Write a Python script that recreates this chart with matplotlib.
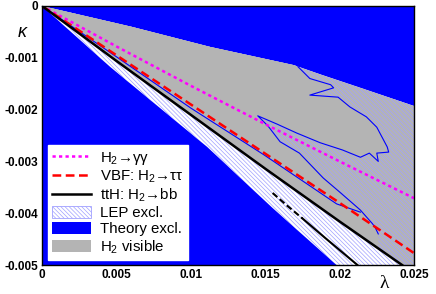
import numpy as np
import matplotlib.pyplot as plt
from matplotlib.lines import Line2D
from matplotlib.patches import Patch

plt.rcParams['font.family'] = ['Liberation Sans', 'DejaVu Sans']
plt.rcParams['mathtext.fontset'] = 'custom'
plt.rcParams['mathtext.rm'] = 'Liberation Sans'
plt.rcParams['mathtext.it'] = 'Liberation Sans:italic'
plt.rcParams['hatch.linewidth'] = 0.5

# boundaries of the theoretically allowed wedge
upper_lam = np.array([0, 0.006, 0.0113, 0.0169, 0.0188, 0.0214, 0.025])
upper_kap = np.array([0, -0.0004, -0.00079, -0.00114, -0.00133, -0.00158, -0.00193])
lower_lam = np.array([0, 0.0046, 0.0111, 0.0155, 0.0198])
lower_kap = np.array([0, -0.00118, -0.00272, -0.0039, -0.005])

# discovery contours
tth_lam = np.array([0, 0.005, 0.01, 0.015, 0.02, 0.0242])
tth_kap = np.array([0, -0.00106, -0.0021, -0.00314, -0.00416, -0.005])
tth2_lam = np.array([0.0155, 0.0165, 0.0175, 0.019, 0.0212])
tth2_kap = np.array([-0.00361, -0.00386, -0.0041, -0.00447, -0.005])
vbf_lam = np.array([0, 0.005, 0.01, 0.015, 0.02, 0.025])
vbf_kap = np.array([0, -0.00095, -0.0019, -0.00285, -0.0038, -0.00477])
gg_lam = np.array([0, 0.005, 0.01, 0.015, 0.02, 0.025])
gg_kap = np.array([0, -0.00078, -0.00154, -0.00228, -0.003, -0.00371])

# LEP exclusion contour (edge of the unhatched visible area)
lep_lam = np.array([0.0172, 0.0180, 0.0194, 0.0196, 0.0180, 0.0199, 0.0207, 0.0218, 0.0225,
                    0.0232, 0.0233, 0.0225, 0.0226, 0.0220, 0.0214, 0.0202, 0.0187, 0.0171,
                    0.0158, 0.0145, 0.0152, 0.0160, 0.0173, 0.0189, 0.0200, 0.0214, 0.0222,
                    0.0224, 0.0226])
lep_kap = np.array([-0.00117, -0.0014, -0.00152, -0.00158, -0.00172, -0.00176, -0.00195, -0.00214,
                    -0.00234, -0.00272, -0.00282, -0.00284, -0.003, -0.00284, -0.00292, -0.00278,
                    -0.00264, -0.00245, -0.00228, -0.00212, -0.00232, -0.00262, -0.00284, -0.00332,
                    -0.00359, -0.00394, -0.0042, -0.00428, -0.0044])
lep2_lam = np.array([0, 0.005, 0.01, 0.0149, 0.0198, 0.0214])
lep2_kap = np.array([0, -0.00098, -0.00197, -0.00287, -0.00382, -0.00398])

xticks = [0, 0.005, 0.01, 0.015, 0.02, 0.025]
xlabels = ['0', '0.005', '0.01', '0.015', '0.02', '0.025']
yticks = [0, -0.001, -0.002, -0.003, -0.004, -0.005]
ylabels = ['0', '-0.001', '-0.002', '-0.003', '-0.004', '-0.005']

blue = '#0000ff'
gray = '#b4b4b4'
hatchc = '#a0a0ff'
hatch = '\\' * 8

fig = plt.figure(figsize=(4.36, 2.94), dpi=100)
ax = fig.add_axes([0.0963, 0.0986, 0.8532, 0.881])
ax.set_facecolor(blue)

# allowed wedge
wx = np.concatenate([upper_lam, [0.025], lower_lam[::-1]])
wy = np.concatenate([upper_kap, [-0.005], lower_kap[::-1]])
ax.fill(wx, wy, color='white', lw=0)

# H2 visible: above the ttH line
gx = np.concatenate([upper_lam, [0.025], tth_lam[::-1]])
gy = np.concatenate([upper_kap, [-0.005], tth_kap[::-1]])
ax.fill(gx, gy, color=gray, lw=0)

# LEP hatching over the wedge
ax.fill(wx, wy, facecolor='none', edgecolor=hatchc, hatch=hatch, lw=0)

# gray area not excluded by LEP
cut = upper_lam < lep_lam[0]
end_l = lep_lam[-1]
end_k = np.interp(end_l, tth_lam, tth_kap)
back = tth_lam < end_l
px = np.concatenate([upper_lam[cut], lep_lam, [end_l], tth_lam[back][::-1]])
py = np.concatenate([upper_kap[cut], lep_kap, [end_k], tth_kap[back][::-1]])
ax.fill(px, py, color=gray, lw=0)
ax.plot(lep_lam, lep_kap, color=blue, lw=0.8)
ax.plot(lep2_lam, lep2_kap, color=blue, lw=0.8)

ax.plot(gg_lam, gg_kap, color='#ff00ff', lw=1.8, dashes=(1.3, 1.3))
ax.plot(vbf_lam, vbf_kap, color='#ff0000', lw=1.8, dashes=(3.5, 1.8))
ax.plot(tth_lam, tth_kap, color='black', lw=1.8)
ax.plot(tth2_lam[:3], tth2_kap[:3], color='black', lw=1.5, dashes=(3, 1.5))
ax.plot(tth2_lam[2:], tth2_kap[2:], color='black', lw=1.5)

ax.set_xlim(0, 0.025)
ax.set_ylim(-0.005, 0)
ax.set_xticks(xticks)
ax.set_xticklabels(xlabels, fontweight='bold', fontsize=8.5)
ax.set_yticks(yticks)
ax.set_yticklabels(ylabels, fontweight='bold', fontsize=8.5)
ax.tick_params(length=0, pad=3)
for s in ax.spines.values():
    s.set_linewidth(1)

fig.text(0.05, 0.89, 'κ', fontsize=13, style='italic', ha='center', va='center')
fig.text(0.881, 0.037, 'λ', fontsize=14, family=['Liberation Serif', 'DejaVu Serif'],
         ha='center', va='center')

handles = [
    Line2D([], [], color='#ff00ff', lw=1.8, dashes=(1.3, 1.3)),
    Line2D([], [], color='#ff0000', lw=1.8, dashes=(3.5, 1.8)),
    Line2D([], [], color='black', lw=1.8),
    Patch(facecolor='white', edgecolor=hatchc, hatch=hatch, lw=0.6),
    Patch(facecolor=blue, lw=0),
    Patch(facecolor=gray, lw=0),
]
labels = [r'H$_2$→γγ', r'VBF: H$_2$→ττ', r'ttH: H$_2$→bb', 'LEP excl.', 'Theory excl.',
          r'H$_2$ visible']
leg = ax.legend(handles, labels, loc='lower left', bbox_to_anchor=(0.016, 0.019),
                borderaxespad=0, fontsize=10.8, frameon=True, fancybox=False,
                edgecolor='white', framealpha=1, labelspacing=0.12, handlelength=2.6,
                handleheight=0.9, handletextpad=0.6, borderpad=0.3)

fig.savefig('out.png', dpi=100)
